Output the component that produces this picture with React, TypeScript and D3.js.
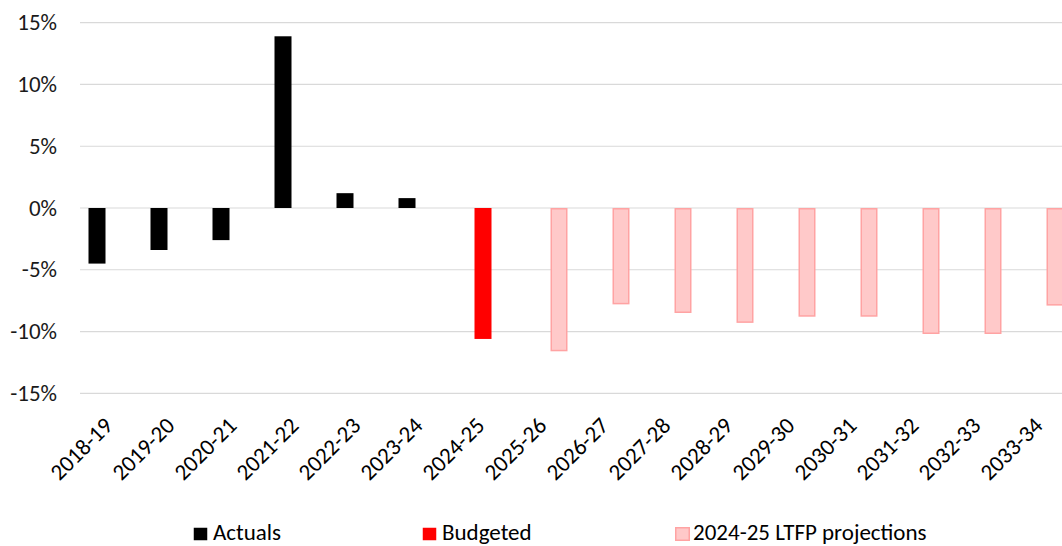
import * as d3 from "d3";

const years = [
  "2018-19", "2019-20", "2020-21", "2021-22", "2022-23", "2023-24", "2024-25", "2025-26",
  "2026-27", "2027-28", "2028-29", "2029-30", "2030-31", "2031-32", "2032-33", "2033-34",
];
// values in %, null where the series has no bar
const actuals = [-4.5, -3.4, -2.6, 13.9, 1.2, 0.8, null, null, null, null, null, null, null, null, null, null];
const budgeted = [null, null, null, null, null, null, -10.6, null, null, null, null, null, null, null, null, null];
const projections = [null, null, null, null, null, null, null, -11.6, -7.8, -8.5, -9.3, -8.8, -8.8, -10.2, -10.2, -7.9];
const yTicks = [15, 10, 5, 0, -5, -10, -15];
const seriesNames = ["Actuals", "Budgeted", "2024-25 LTFP projections"];

const W = 1062;
const H = 546;
const FONT = "Carlito, Calibri, 'Liberation Sans', Arial, sans-serif";

const seriesStyle = [
  { fill: "#000000", stroke: "none" },
  { fill: "#ff0000", stroke: "none" },
  { fill: "#ffc9c9", stroke: "#ffa3a3" },
];

export default function App() {
  const x = d3.scaleBand<string>().domain(years).range([80, 80 + 62 * 16]);
  const y = d3.scaleLinear().domain([-15, 15]).range([393.3, 22.7]);
  // slot for each series inside a category (Excel-style overlap)
  const x1 = d3
    .scaleBand<string>()
    .domain(seriesNames)
    .range([x.bandwidth() / 2 - 21, x.bandwidth() / 2 + 21]);
  const barW = 17;

  const allSeries = [actuals, budgeted, projections];

  const legendX = [193, 422, 675];

  return (
    <div style={{ position: "fixed", left: 0, top: 0 }}>
      <svg width={W} height={H} style={{ display: "block", background: "#fff" }} fontFamily={FONT}>
        {/* gridlines */}
        {yTicks.map((t) => (
          <line key={"g" + t} x1={80} x2={W} y1={y(t)} y2={y(t)} stroke="#d9d9d9" strokeWidth={1.2} />
        ))}
        {/* y tick labels */}
        {yTicks.map((t) => (
          <text key={"t" + t} x={57} y={y(t)} dy="0.33em" textAnchor="end" fontSize={23} fill="#1a1a1a">
            {t + "%"}
          </text>
        ))}
        {/* bars */}
        {allSeries.map((vals, si) =>
          vals.map((v, i) => {
            if (v === null) return null;
            const cx = (x(years[i]) ?? 0) + (x1(seriesNames[si]) ?? 0) + x1.bandwidth() / 2;
            const st = seriesStyle[si];
            const sw = st.stroke === "none" ? 0 : 1.5;
            return (
              <rect
                key={si + "-" + i}
                x={cx - barW / 2 + sw / 2}
                y={Math.min(y(v), y(0)) + sw / 2}
                width={barW - sw}
                height={Math.abs(y(v) - y(0)) - sw}
                fill={st.fill}
                stroke={st.stroke}
                strokeWidth={sw}
              />
            );
          })
        )}
        {/* x tick labels */}
        {years.map((yr) => {
          const cx = (x(yr) ?? 0) + x.bandwidth() / 2;
          return (
            <text
              key={"x" + yr}
              transform={`translate(${cx + 3},${427}) rotate(-45)`}
              textAnchor="end"
              fontSize={23}
              fill="#000"
            >
              {yr}
            </text>
          );
        })}
        {/* legend */}
        {seriesNames.map((name, si) => {
          const st = seriesStyle[si];
          return (
            <g key={"l" + name} transform={`translate(${legendX[si]},${527})`}>
              <rect
                x={0.75}
                y={0.75}
                width={13.5}
                height={12.5}
                fill={st.fill}
                stroke={st.stroke}
                strokeWidth={st.stroke === "none" ? 0 : 1.5}
              />
              <text x={si === 2 ? 18 : 20} y={13} fontSize={23} fill="#000">
                {name}
              </text>
            </g>
          );
        })}
      </svg>
    </div>
  );
}
